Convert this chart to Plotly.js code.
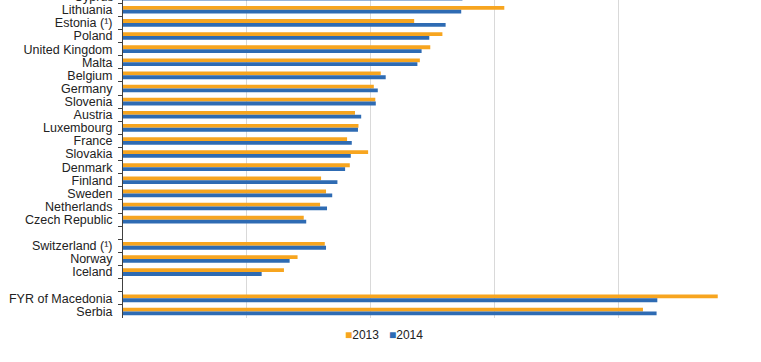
<!DOCTYPE html>
<html>
<head>
<meta charset="utf-8">
<script src="https://cdn.plot.ly/plotly-3.0.1.min.js"></script>
<style>html,body{margin:0;padding:0;background:#fff;}#chart{width:761px;height:362px;}</style>
</head>
<body>
<div id="chart"></div>
<script>
const countries = ["Cyprus","Lithuania","Estonia (¹)","Poland","United Kingdom","Malta","Belgium","Germany","Slovenia","Austria","Luxembourg","France","Slovakia","Denmark","Finland","Sweden","Netherlands","Czech Republic"," ","Switzerland (¹)","Norway","Iceland","  ","FYR of Macedonia","Serbia"];
const values2013 = [14.0,15.40,11.76,12.90,12.41,11.99,10.41,10.13,10.19,9.37,9.51,9.05,9.90,9.16,8.00,8.20,7.96,7.30,null,8.15,7.05,6.50,null,24.02,21.00];
const values2014 = [13.71,13.66,13.03,12.37,12.06,11.89,10.61,10.29,10.21,9.62,9.49,9.24,9.20,8.97,8.66,8.45,8.24,7.40,null,8.20,6.73,5.60,null,21.58,21.55];
const seriesNames = ["2013","2014"];
const colors = ["#F7A51F","#2E6BB3"];

const legendText = seriesNames.map(function(n,i){
  return '<span style="color:' + colors[i] + '">■</span>' + n;
}).join('\u00a0\u00a0\u00a0');

const traces = [
  {type:"bar",orientation:"h",y:countries,x:values2013,name:seriesNames[0],marker:{color:colors[0]},showlegend:false,hoverinfo:"x+y"},
  {type:"bar",orientation:"h",y:countries,x:values2014,name:seriesNames[1],marker:{color:colors[1]},showlegend:false,hoverinfo:"x+y"}
];

const layout = {
  width:761,height:362,
  margin:{l:123,r:19,t:0,b:44,pad:0},
  paper_bgcolor:"#ffffff",plot_bgcolor:"#ffffff",
  font:{family:"Liberation Sans, Arial, sans-serif",size:12,color:"#222222"},
  showlegend:false,
  barmode:"group",bargap:0.42,bargroupgap:0,
  xaxis:{range:[0,25],dtick:5,tick0:0,showticklabels:false,showgrid:true,gridcolor:"#d9d9d9",gridwidth:1,zeroline:false,showline:false,ticks:"",fixedrange:true},
  yaxis:{type:"category",categoryorder:"array",categoryarray:countries,range:[24.5,0.254],tickmode:"linear",tick0:0,dtick:1,showline:true,linecolor:"#404040",linewidth:1,ticks:"outside",tickson:"boundaries",ticklen:4,tickcolor:"#404040",ticklabelstandoff:7,showgrid:false,zeroline:false,tickfont:{size:12.5,color:"#222222"},fixedrange:true},
  annotations:[
    {text:"Cyprus",xref:"paper",yref:"paper",x:0,y:1+3.3/318,xanchor:"right",yanchor:"middle",xshift:-7,showarrow:false,font:{size:12.5,color:"#222222"}},
    {text:legendText,xref:"paper",yref:"paper",x:0.4217,y:-0.0535,xanchor:"center",yanchor:"middle",showarrow:false,font:{size:12,color:"#222222"}}
  ]
};
Plotly.newPlot("chart",traces,layout,{displayModeBar:false,staticPlot:true});
</script>
</body>
</html>
